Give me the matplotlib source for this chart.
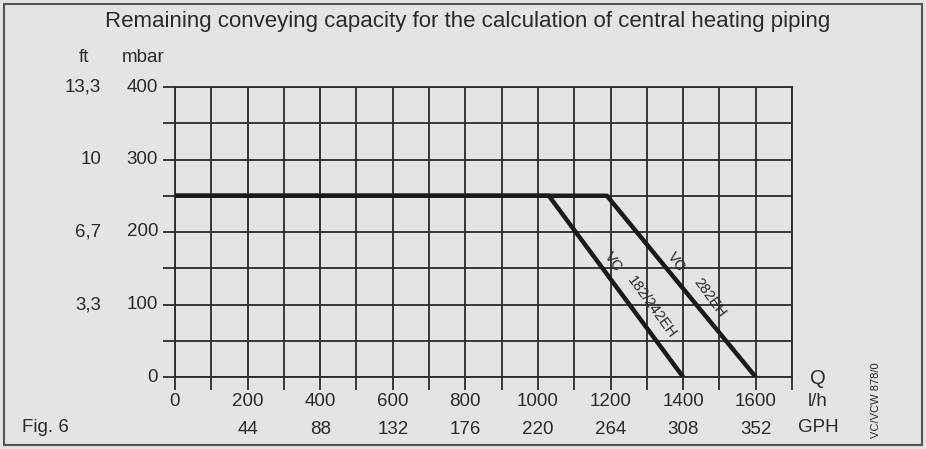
import matplotlib
matplotlib.use('Agg')
from matplotlib import pyplot as plt
from matplotlib.ticker import MultipleLocator
from matplotlib.patches import Rectangle
import matplotlib.transforms as mtrans

plt.rcParams['font.family'] = ['Liberation Sans', 'DejaVu Sans']

# Remaining conveying capacity, Fig. 6
flow_lh = [0, 200, 400, 600, 800, 1000, 1200, 1400, 1600]
flow_gph = [0, 44, 88, 132, 176, 220, 264, 308, 352]
head_mbar = [0, 100, 200, 300, 400]
head_ft = ['', '3,3', '6,7', '10', '13,3']

# pump curves (l/h, mbar)
vc_182_x = [0, 1030, 1400]
vc_182_y = [250, 250, 0]
vc_282_x = [0, 1190, 1600]
vc_282_y = [250, 250, 0]

ink = '#2a2a2a'
paper = '#e4e4e1'

fig = plt.figure(figsize=(9.26, 4.49), dpi=100)
fig.patch.set_facecolor(paper)
W, H = 926, 449

# outer frame of the figure
fig.add_artist(Rectangle((4 / W, 4 / H), 918 / W, 441 / H, transform=fig.transFigure,
                         fill=False, edgecolor='#555555', linewidth=1.5))

ax = fig.add_axes([175 / W, (H - 377) / H, (792 - 175) / W, (377 - 87) / H])
ax.set_facecolor(paper)
ax.set_xlim(0, 1700)
ax.set_ylim(0, 400)
ax.xaxis.set_major_locator(MultipleLocator(100))
ax.yaxis.set_major_locator(MultipleLocator(50))
ax.grid(True, color=ink, linewidth=1.3)
ax.tick_params(length=9, width=1.3, color=ink, labelbottom=False, labelleft=False)
for s in ax.spines.values():
    s.set_color(ink)
    s.set_linewidth(1.3)

ax.plot(vc_182_x, vc_182_y, color='#1a1a1a', linewidth=3.2, solid_capstyle='butt', zorder=5)
ax.plot(vc_282_x, vc_282_y, color='#1a1a1a', linewidth=3.2, solid_capstyle='butt', zorder=5)

fs = 13.5
# x labels, two rows
tb = mtrans.blended_transform_factory(ax.transData, ax.transAxes)
for q, g in zip(flow_lh, flow_gph):
    ax.text(q, -0.085, str(q), transform=tb, ha='center', va='center', fontsize=fs, color=ink)
    if q > 0:
        ax.text(q, -0.18, str(g), transform=tb, ha='center', va='center', fontsize=fs, color=ink)
fig.text(818 / W, 1 - 378 / H, 'Q', ha='center', va='center', fontsize=fs + 1, color=ink)
fig.text(818 / W, 1 - 402 / H, 'l/h', ha='center', va='center', fontsize=fs, color=ink)
fig.text(818 / W, 1 - 428 / H, 'GPH', ha='center', va='center', fontsize=fs, color=ink)

# y labels, two columns
tl = mtrans.blended_transform_factory(fig.transFigure, ax.transData)
for m, f in zip(head_mbar, head_ft):
    ax.text(158 / W, m, str(m), transform=tl, ha='right', va='center', fontsize=fs, color=ink)
    ax.text(101 / W, m, f, transform=tl, ha='right', va='center', fontsize=fs, color=ink)
fig.text(84 / W, 1 - 58 / H, 'ft', ha='center', va='center', fontsize=fs, color=ink)
fig.text(143 / W, 1 - 58 / H, 'mbar', ha='center', va='center', fontsize=fs, color=ink)

# curve labels along the lines
ax.text(1208, 159, 'VC', rotation=-54, ha='center', va='center', fontsize=10.5, color=ink)
ax.text(1312, 96, '182/242EH', rotation=-54, ha='center', va='center', fontsize=10.5, color=ink)
ax.text(1382, 159, 'VC', rotation=-54, ha='center', va='center', fontsize=10.5, color=ink)
ax.text(1472, 109, '282EH', rotation=-54, ha='center', va='center', fontsize=10.5, color=ink)

fig.text(468 / W, 1 - 22 / H, 'Remaining conveying capacity for the calculation of central heating piping',
         ha='center', va='center', fontsize=16, color=ink)
fig.text(45 / W, 1 - 428 / H, 'Fig. 6', ha='center', va='center', fontsize=fs, color=ink)
fig.text(876 / W, 1 - 400 / H, 'VC/VCW 878/0', rotation=90, ha='center', va='center', fontsize=8, color=ink)

fig.savefig('out.png', dpi=100, facecolor=paper)
